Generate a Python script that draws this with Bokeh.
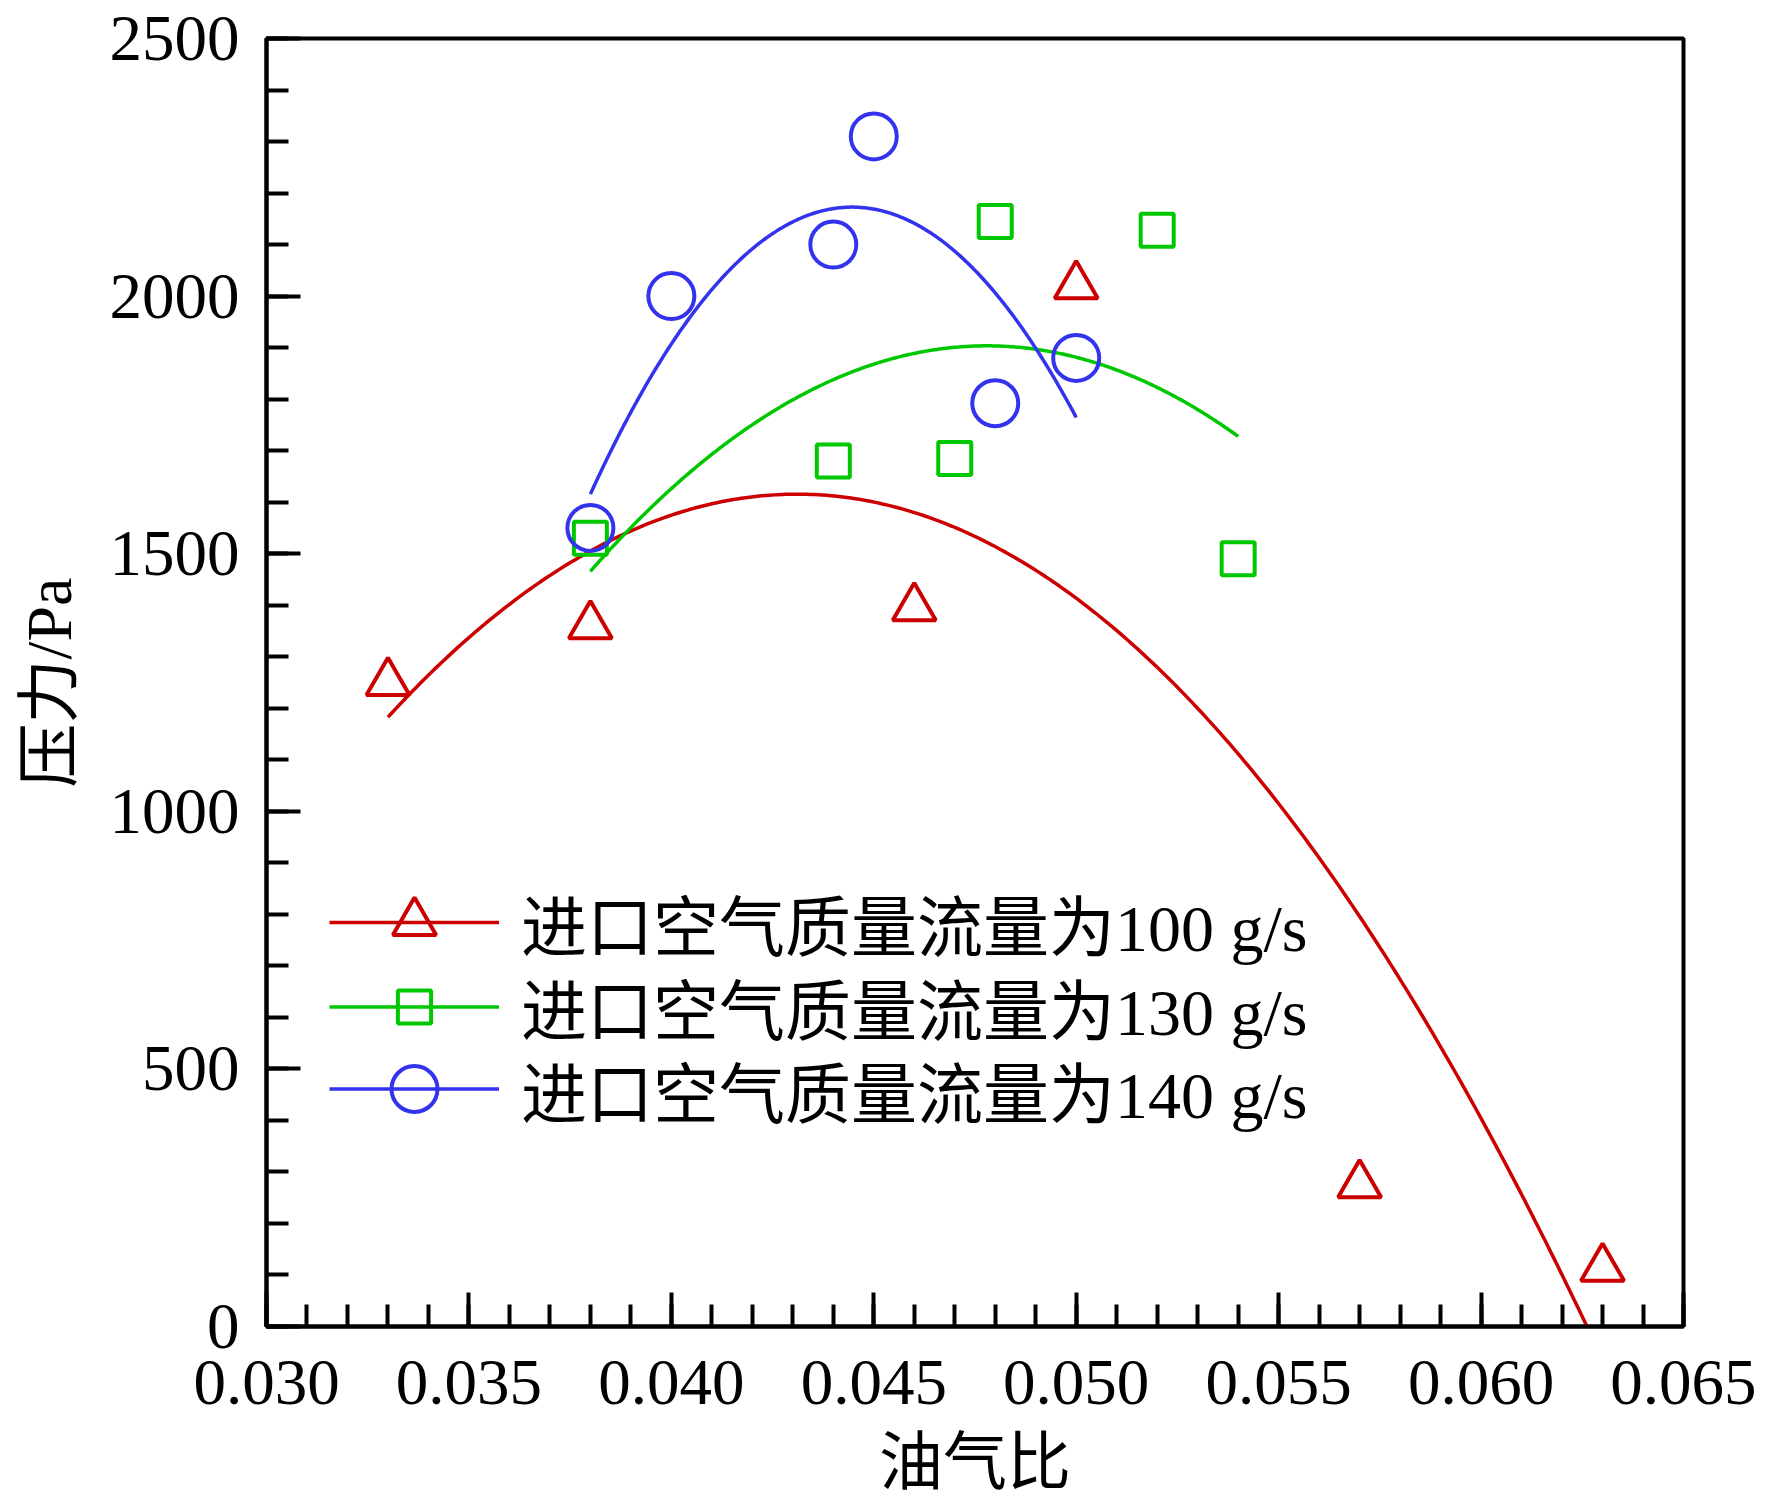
import numpy as np
from bokeh.plotting import figure
from bokeh.models import Range1d, SingleIntervalTicker, PrintfTickFormatter, Legend, LegendItem
from bokeh.embed import file_html
from bokeh.resources import INLINE

# ---- data ----
x_100 = [0.033, 0.038, 0.046, 0.050, 0.057, 0.063]
y_100 = [1250, 1360, 1395, 2020, 275, 113]
x_130 = [0.038, 0.044, 0.047, 0.048, 0.052, 0.054]
y_130 = [1530, 1680, 1685, 2145, 2128, 1490]
x_140 = [0.038, 0.040, 0.044, 0.045, 0.048, 0.050]
y_140 = [1550, 2000, 2100, 2310, 1792, 1880]

series_labels = ["进口空气质量流量为100 g/s", "进口空气质量流量为130 g/s", "进口空气质量流量为140 g/s"]
x_title = "油气比"
y_title = "压力/Pa"

FONT = "Liberation Serif, Noto Sans CJK SC"
RED, GREEN, BLUE = "#CC0000", "#00C800", "#3333EE"

p = figure(frame_width=1417, frame_height=1288, output_backend="svg", toolbar_location=None,
           x_range=Range1d(0.030, 0.065), y_range=Range1d(0, 2500),
           min_border_left=266, min_border_right=73, min_border_top=38, min_border_bottom=159)
p.background_fill_color = "white"
p.border_fill_color = "white"
p.xgrid.visible = False
p.ygrid.visible = False
p.outline_line_color = "black"
p.outline_line_width = 4

p.xaxis.ticker = SingleIntervalTicker(interval=0.005, num_minor_ticks=5)
p.yaxis.ticker = SingleIntervalTicker(interval=500, num_minor_ticks=5)
p.xaxis.formatter = PrintfTickFormatter(format="%.3f")
p.yaxis.formatter = PrintfTickFormatter(format="%d")
p.xaxis.axis_label = x_title
p.yaxis.axis_label = y_title
for ax in (p.xaxis, p.yaxis):
    ax.axis_line_width = 4
    ax.axis_line_color = "black"
    ax.major_tick_line_width = 4
    ax.minor_tick_line_width = 4
    ax.major_tick_in = 34
    ax.major_tick_out = 0
    ax.minor_tick_in = 22
    ax.minor_tick_out = 0
    ax.major_label_text_font = FONT
    ax.major_label_text_font_size = "65px"
    ax.major_label_text_color = "black"
    ax.axis_label_text_font = FONT
    ax.axis_label_text_font_size = "64px"
    ax.axis_label_text_font_style = "normal"
    ax.axis_label_text_color = "black"
p.xaxis.major_label_standoff = 34
p.xaxis.axis_label_standoff = 20
p.yaxis.major_label_standoff = 27
p.yaxis.axis_label_standoff = 22

# (x, y, colour, marker, marker size, legend glyph height, legend item height)
series = [
    (x_100, y_100, RED, "triangle", 43, 108, 108),
    (x_130, y_130, GREEN, "square", 33, 83, 95),
    (x_140, y_140, BLUE, "circle", 46, 115, 115),
]
legend_centers = [922, 1001, 1088]  # screen rows of the legend entries
frame_bottom = 1326

for (xs, ys, col, mk, sz, gh, ih), lab, cy in zip(series, series_labels, legend_centers):
    coef = np.polyfit(xs, ys, 2)
    xf = np.linspace(min(xs), max(xs), 300)
    yf = np.polyval(coef, xf)
    lr = p.line(xf, yf, line_color=col, line_width=3.5)
    sr = p.scatter(xs, ys, marker=mk, size=sz, line_color=col, line_width=4, fill_color=None)
    leg = Legend(items=[LegendItem(label=lab, renderers=[lr, sr])],
                 location=(63, int(round(frame_bottom - (cy - gh / 2 + ih)))),
                 glyph_width=170, glyph_height=gh, padding=0, margin=0, spacing=0,
                 label_standoff=22, label_text_font=FONT, label_text_font_size="66px",
                 label_text_baseline="middle", label_text_color="black",
                 border_line_color=None, background_fill_alpha=0)
    p.add_layout(leg)

open("out.html", "w").write(file_html(p, INLINE))
